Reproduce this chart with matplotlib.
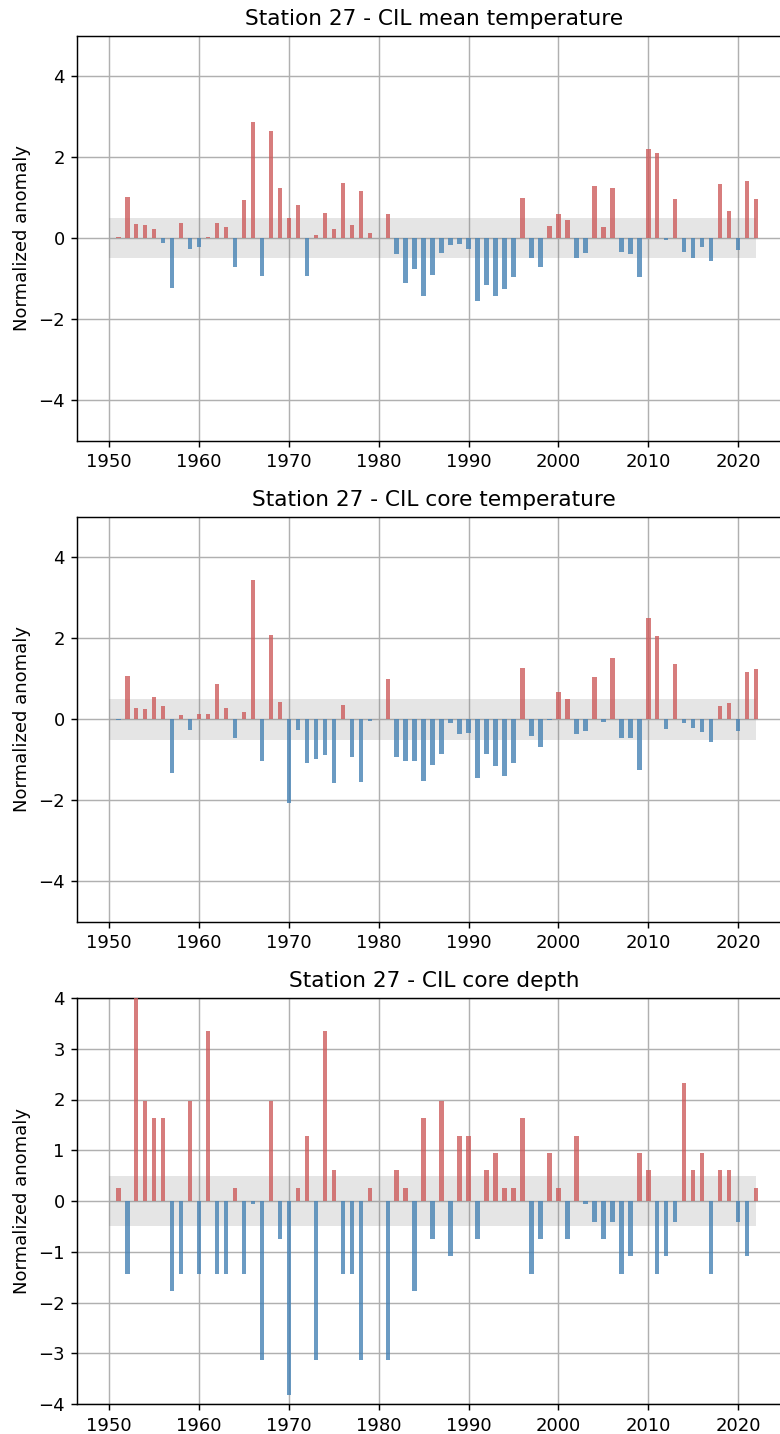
import numpy as np
import matplotlib.pyplot as plt

# Station 27 CIL normalized anomalies, 1950-2022 (NaN = no data)
years = np.arange(1950, 2023)

cil_mean_temp = [
    np.nan, 0.03, 1.01, 0.34, 0.31, 0.22, -0.13, -1.23, 0.37, -0.26,
    -0.21, 0.02, 0.37, 0.27, -0.72, 0.94, 2.86, -0.93, 2.64, 1.24,
    0.49, 0.81, -0.93, 0.08, 0.61, 0.21, 1.36, 0.31, 1.17, 0.12,
    np.nan, 0.59, -0.39, -1.10, -0.77, -1.44, -0.91, -0.38, -0.18, -0.15,
    -0.28, -1.55, -1.16, -1.44, -1.27, -0.97, 1.00, -0.50, -0.71, 0.30,
    0.59, 0.44, -0.50, -0.37, 1.29, 0.27, 1.24, -0.34, -0.40, -0.96,
    2.19, 2.10, -0.05, 0.97, -0.35, -0.50, -0.22, -0.58, 1.33, 0.67,
    -0.29, 1.40, 0.96,
]

cil_core_temp = [
    np.nan, -0.02, 1.07, 0.27, 0.26, 0.56, 0.34, -1.33, 0.11, -0.27,
    0.12, 0.13, 0.88, 0.27, -0.47, 0.18, 3.44, -1.03, 2.07, 0.43,
    -2.07, -0.27, -1.07, -0.99, -0.88, -1.57, 0.35, -0.92, -1.54, -0.03,
    np.nan, 0.99, -0.92, -1.03, -1.03, -1.52, -1.12, -0.85, -0.09, -0.36,
    -0.35, -1.44, -0.85, -1.16, -1.39, -1.07, 1.27, -0.40, -0.68, -0.02,
    0.67, 0.49, -0.36, -0.30, 1.04, -0.07, 1.51, -0.45, -0.47, -1.24,
    2.51, 2.05, -0.25, 1.36, -0.10, -0.21, -0.32, -0.55, 0.34, 0.40,
    -0.28, 1.16, 1.23,
]

cil_core_depth = [
    np.nan, 0.26, -1.43, 4.00, 1.97, 1.64, 1.64, -1.77, -1.43, 1.97,
    -1.43, 3.34, -1.43, -1.43, 0.26, -1.43, -0.06, -3.14, 1.97, -0.75,
    -3.82, 0.26, 1.29, -3.14, 3.34, 0.61, -1.43, -1.43, -3.14, 0.26,
    np.nan, -3.14, 0.61, 0.26, -1.77, 1.64, -0.75, 1.97, -1.09, 1.29,
    1.29, -0.75, 0.61, 0.95, 0.26, 0.26, 1.64, -1.43, -0.75, 0.95,
    0.26, -0.75, 1.29, -0.06, -0.41, -0.75, -0.41, -1.43, -1.09, 0.95,
    0.61, -1.43, -1.09, -0.41, 2.32, 0.61, 0.95, -1.43, 0.61, 0.61,
    -0.41, -1.09, 0.26,
]

panels = [
    ("Station 27 - CIL mean temperature", cil_mean_temp, (-5, 5), np.arange(-4, 5, 2)),
    ("Station 27 - CIL core temperature", cil_core_temp, (-5, 5), np.arange(-4, 5, 2)),
    ("Station 27 - CIL core depth", cil_core_depth, (-4, 4), np.arange(-4, 5, 1)),
]

W, H = 780, 1434
dpi = 130
fig = plt.figure(figsize=(W / dpi, H / dpi), dpi=dpi)

# axes boxes in pixels: (top, bottom)
boxes = [(35.5, 440.5), (516.8, 921.8), (998.0, 1404.0)]
left_px = 77.4
px_per_year = 8.983
xlim = (1946.45, 2025.9)
width_px = (xlim[1] - xlim[0]) * px_per_year

for (title, values, ylim, yticks), (top, bottom) in zip(panels, boxes):
    ax = fig.add_axes([left_px / W, 1 - bottom / H, width_px / W, (bottom - top) / H])
    vals = np.array(values, dtype=float)
    pos = np.where(vals > 0, vals, np.nan)
    neg = np.where(vals < 0, vals, np.nan)

    ax.fill_between(years, -0.5, 0.5, facecolor="gray", alpha=0.2, linewidth=0)
    ax.bar(years, pos, width=0.5, color="indianred", alpha=0.8, linewidth=0, zorder=3)
    ax.bar(years, neg, width=0.5, color="steelblue", alpha=0.8, linewidth=0, zorder=3)

    ax.set_xlim(*xlim)
    ax.set_ylim(*ylim)
    ax.set_yticks(yticks)
    ax.set_xticks(np.arange(1950, 2021, 10))
    ax.grid(True, zorder=0)
    ax.set_axisbelow(True)
    ax.set_ylabel("Normalized anomaly")
    ax.set_title(title)

fig.savefig("out.png", dpi=dpi)
